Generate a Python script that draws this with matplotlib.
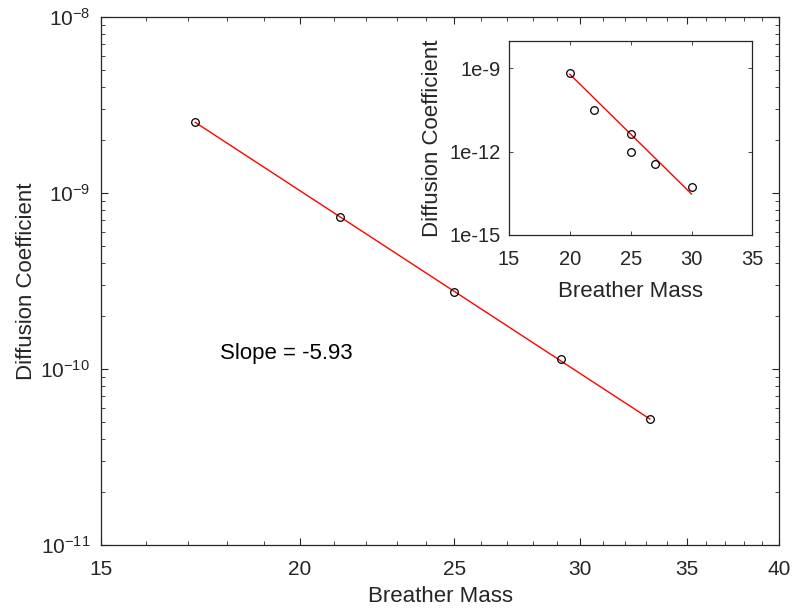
import matplotlib
matplotlib.use("Agg")
import matplotlib.pyplot as plt
from matplotlib.ticker import FixedLocator, NullLocator, FixedFormatter, NullFormatter

plt.rcParams['font.family'] = ['Liberation Sans', 'DejaVu Sans']
plt.rcParams['mathtext.fontset'] = 'custom'
plt.rcParams['mathtext.rm'] = 'Liberation Sans'
plt.rcParams['mathtext.it'] = 'Liberation Sans:italic'

# Main data
mass = [17.19, 21.18, 25.0, 29.18, 33.18]
diff = [2.52e-9, 7.31e-10, 2.74e-10, 1.14e-10, 5.2e-11]
fit_mass = [17.19, 33.18]
fit_diff = [2.52e-9, 5.2e-11]
slope_text = "Slope = -5.93"

# Inset data
in_mass = [20, 22, 25, 25, 27, 30]
in_diff = [6.7e-10, 3.1e-11, 4.4e-12, 1.0e-12, 3.7e-13, 5.4e-14]
in_fit_mass = [20, 30]
in_fit_diff = [6.2e-10, 3.0e-14]

main_xticks = [15, 20, 25, 30, 35, 40]
in_xticks = [15, 20, 25, 30, 35]
in_yticks = [1e-15, 1e-12, 1e-9]
in_ylabels = ['1e-15', '1e-12', '1e-9']

tc = '#262626'
fig = plt.figure(figsize=(7.96, 6.10), dpi=100)
ax = fig.add_axes([0.127, 0.1066, 0.8517, 0.8654])
ax.set_xscale('log')
ax.set_yscale('log')
ax.plot(fit_mass, fit_diff, color='red', lw=1.0, zorder=2)
ax.plot(mass, diff, 'o', mfc='none', mec='black', ms=5.5, mew=0.9, zorder=3)
ax.set_xlim(15, 40)
ax.set_ylim(1e-11, 1e-8)
ax.xaxis.set_major_locator(FixedLocator(main_xticks))
ax.xaxis.set_major_formatter(FixedFormatter([str(t) for t in main_xticks]))
ax.xaxis.set_minor_locator(FixedLocator([m for m in range(16, 40) if m not in main_xticks]))
ax.xaxis.set_minor_formatter(NullFormatter())
ax.yaxis.set_minor_formatter(NullFormatter())
ax.tick_params(which='both', direction='in', top=True, right=True, colors=tc, labelsize=15)
ax.tick_params(which='major', length=5, width=0.8)
ax.tick_params(which='minor', length=3, width=0.6)
ax.tick_params(axis='x', pad=11)
ax.tick_params(axis='y', pad=8)
for s in ax.spines.values():
    s.set_color(tc)
    s.set_linewidth(0.9)
ax.set_xlabel('Breather Mass', fontsize=16, color=tc)
ax.set_ylabel('Diffusion Coefficient', fontsize=16, color=tc)
ax.xaxis.set_label_coords(0.5, -0.078)
ax.yaxis.set_label_coords(-0.095, 0.5)
ax.text(17.82, 1.23e-10, slope_text, fontsize=16, color='black', ha='left', va='center')

# Inset
ai = fig.add_axes([0.6394, 0.6148, 0.3058, 0.3185])
ai.set_yscale('log')
ai.plot(in_fit_mass, in_fit_diff, color='red', lw=1.0, zorder=2)
ai.plot(in_mass, in_diff, 'o', mfc='none', mec='black', ms=5.5, mew=0.9, zorder=3)
ai.set_xlim(15, 35)
ai.set_ylim(1e-15, 1e-8)
ai.xaxis.set_major_locator(FixedLocator(in_xticks))
ai.yaxis.set_major_locator(FixedLocator(in_yticks))
ai.yaxis.set_major_formatter(FixedFormatter(in_ylabels))
ai.yaxis.set_minor_locator(NullLocator())
ai.xaxis.set_minor_locator(NullLocator())
ai.tick_params(which='both', direction='in', top=True, right=True, colors=tc, labelsize=14.5, length=3, width=0.6)
ai.tick_params(axis='x', pad=11)
ai.tick_params(axis='y', pad=6)
for s in ai.spines.values():
    s.set_color(tc)
    s.set_linewidth(0.9)
ai.set_xlabel('Breather Mass', fontsize=16, color=tc)
ai.set_ylabel('Diffusion Coefficient', fontsize=16, color=tc)
ai.xaxis.set_label_coords(0.5, -0.235)
ai.yaxis.set_label_coords(-0.27, 0.5)

fig.savefig('out.png', dpi=100)
